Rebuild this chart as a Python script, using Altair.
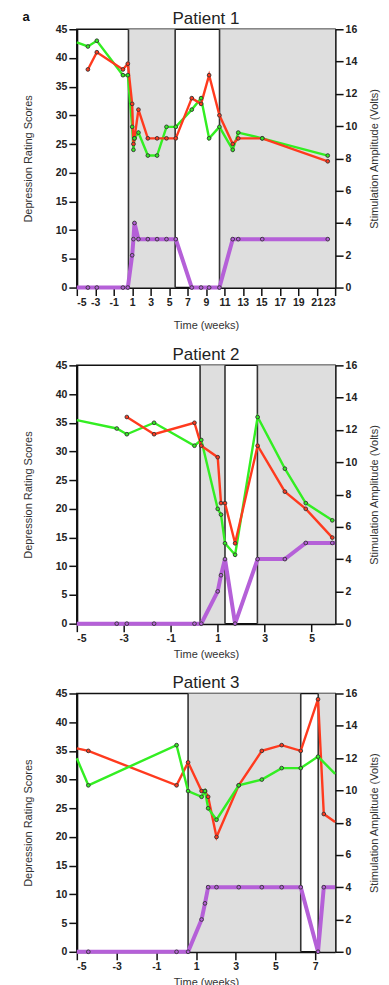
import altair as alt
import pandas as pd

# ---------------- data ----------------
P1_T = [-5, -3.8, -2.83, 0, 0.53, 1.0, 1.14, 1.25, 1.68, 2.7, 3.7, 4.72, 5.73, 7.46, 8.47, 9.34, 10.46, 11.9, 12.5, 15.1, 22.2]
P1_RED = [None, 38, 41, 38, 39, 32, 25, 26, 31, 26, 26, 26, 26, 33, 32, 37, 30, 25, 26, 26, 22]
P1_GREEN = [42.7, 42, 43, 37, 37, 28, 24, 26, 27, 23, 23, 28, 28, 31, 33, 26, 28, 24, 27, 26, 23]
P1_VOLTS = [0, 0, 0, 0, 0, 2, 3, 4, 3, 3, 3, 3, 3, 0, 0, 0, 0, 3, 3, 3, 3]
P1_MARK = [False] + [True] * 20
P1_SHADE = [(0.6, 5.66), (10.47, 23)]
P1_RULES = [0.6, 5.66, 10.47]
P1_XDOM = [-5, 23]
P1_XTICKS = [-5, -3, -1, 1, 3, 5, 7, 9, 11, 13, 15, 17, 19, 21, 23]

P2_T = [-5, -3.3, -2.87, -1.71, 0.01, 0.3, 1.0, 1.14, 1.31, 1.74, 2.7, 3.86, 4.75, 5.88, 6]
P2_RED = [None, None, 36, 33, 35, 31, 29, 21, 21, 14, 31, 23, 20, 15, None]
P2_GREEN = [35.45, 34, 33, 35, 31, 32, 20, 19, 14, 12, 36, 27, 21, 18, None]
P2_VOLTS = [0, 0, 0, 0, 0, 0, 2, 3, 4, 0, 4, 4, 5, 5, 5]
P2_MARK = [False] + [True] * 13 + [False]
P2_SHADE = [(0.25, 1.31), (2.69, 6)]
P2_RULES = [0.25, 1.31, 2.69]
P2_XDOM = [-5, 6]
P2_XTICKS = [-5, -3, -1, 1, 3, 5]

P3_T = [-5, -4.42, 0.02, 0.6, 1.28, 1.45, 1.61, 2.03, 3.15, 4.31, 5.31, 6.27, 7.14, 7.43, 8]
P3_RED = [35.45, 35, 29, 33, 28, 28, 27, 20, 29, 35, 36, 35, 44, 24, 22.6]
P3_GREEN = [33.7, 29, 36, 28, 27, 28, 25, 23, 29, 30, 32, 32, 34, None, 31]
P3_VOLTS = [0, 0, 0, 0, 2, 3, 4, 4, 4, 4, 4, 4, 0, 4, 4]
P3_MARK = [False] + [True] * 13 + [False]
P3_SHADE = [(0.6, 6.27), (7.15, 8)]
P3_RULES = [0.6, 6.27, 7.15]
P3_XDOM = [-5, 8]
P3_XTICKS = [-5, -3, -1, 1, 3, 5, 7]

LEFT_TICKS = [0, 5, 10, 15, 20, 25, 30, 35, 40, 45]
RIGHT_TICKS = [0, 2, 4, 6, 8, 10, 12, 14, 16]

RED = "#ff3a1e"
GREEN = "#33ee22"
PURPLE = "#b560d8"
SHADE = "#dedede"

W = 259
H = 259
FONT = "Liberation Sans"


def panel(title, T, R, G, V, M, shade, rules, xdom, xticks, xtitle_pad):
    def X(field="t"):
        return alt.X(
            f"{field}:Q",
            scale=alt.Scale(domain=xdom, nice=False, zero=False),
            axis=alt.Axis(values=xticks, title="Time (weeks)", labelExpr="'' + datum.value",
                          titlePadding=xtitle_pad, grid=False, labelOverlap=False),
        )

    rows = []
    for t, r, g, m in zip(T, R, G, M):
        if r is not None:
            rows.append({"t": t, "v": r, "s": "red", "m": m})
        if g is not None:
            rows.append({"t": t, "v": g, "s": "green", "m": m})
    dfl = pd.DataFrame(rows)
    dfv = pd.DataFrame({"t": T, "volts": V, "m": M})
    dfs = pd.DataFrame({"t": [a for a, b in shade], "t2": [b for a, b in shade]})
    dfr = pd.DataFrame({"t": rules})

    color = alt.Color("s:N", scale=alt.Scale(domain=["red", "green"], range=[RED, GREEN]), legend=None)
    yl = alt.Y("v:Q", scale=alt.Scale(domain=[0, 45], nice=False),
               axis=alt.Axis(values=LEFT_TICKS, title="Depression Rating Scores", titlePadding=22, grid=False))
    yr = alt.Y("volts:Q", scale=alt.Scale(domain=[0, 16], nice=False),
               axis=alt.Axis(values=RIGHT_TICKS, orient="right", title="Stimulation Amplitude (Volts)",
                             titleAngle=270, titlePadding=23, grid=False))

    rects = alt.Chart(dfs).mark_rect(color=SHADE).encode(x=X(), x2="t2:Q", y=alt.value(0), y2=alt.value(H))
    rl = alt.Chart(dfr).mark_rule(color="#333", strokeWidth=1.6).encode(x=X(), y=alt.value(0), y2=alt.value(H))

    left_lines = alt.Chart(dfl).mark_line(strokeWidth=2.4).encode(x=X(), y=yl, color=color, detail="s:N")
    left_pts = alt.Chart(dfl).transform_filter("datum.m").mark_circle(
        size=14, stroke="#333", strokeWidth=0.9, opacity=1).encode(x=X(), y=yl, color=color)
    left = alt.layer(left_lines, left_pts)

    pl = alt.Chart(dfv).mark_line(strokeWidth=4, color=PURPLE).encode(x=X(), y=yr)
    pp = alt.Chart(dfv).transform_filter("datum.m").mark_circle(
        size=14, color=PURPLE, stroke="#333", strokeWidth=0.9, opacity=1).encode(x=X(), y=yr)
    right = alt.layer(pl, pp)

    ch = alt.layer(rects, rl, left, right).resolve_scale(y="independent").properties(
        width=W, height=H,
        title=alt.TitleParams(title, fontSize=17, fontWeight="normal", font=FONT, offset=-4, color="#222"),
    )
    return ch


p1 = panel("Patient 1", P1_T, P1_RED, P1_GREEN, P1_VOLTS, P1_MARK, P1_SHADE, P1_RULES, P1_XDOM, P1_XTICKS, 12)
p2 = panel("Patient 2", P2_T, P2_RED, P2_GREEN, P2_VOLTS, P2_MARK, P2_SHADE, P2_RULES, P2_XDOM, P2_XTICKS, 4)
p3 = panel("Patient 3", P3_T, P3_RED, P3_GREEN, P3_VOLTS, P3_MARK, P3_SHADE, P3_RULES, P3_XDOM, P3_XTICKS, 4)

chart = alt.vconcat(p1, p2, p3, spacing=13).properties(
    padding={"left": 13, "top": 0, "right": 0, "bottom": 0},
    title=alt.TitleParams("a", anchor="start", fontSize=13, fontWeight="bold", font=FONT,
                          dx=1, offset=-14, color="#111"),
).configure_view(stroke="#111", strokeWidth=1.5).configure_axis(
    labelFont=FONT, titleFont=FONT, labelFontSize=10.5, labelFontWeight="bold",
    titleFontSize=11, titleFontWeight="normal", labelColor="#222", titleColor="#333",
    domainColor="#111", domainWidth=2, tickColor="#111", tickWidth=1.5, tickSize=8, labelPadding=2,
)

chart.save("out.html", embed_options={"renderer": "svg", "actions": False})
